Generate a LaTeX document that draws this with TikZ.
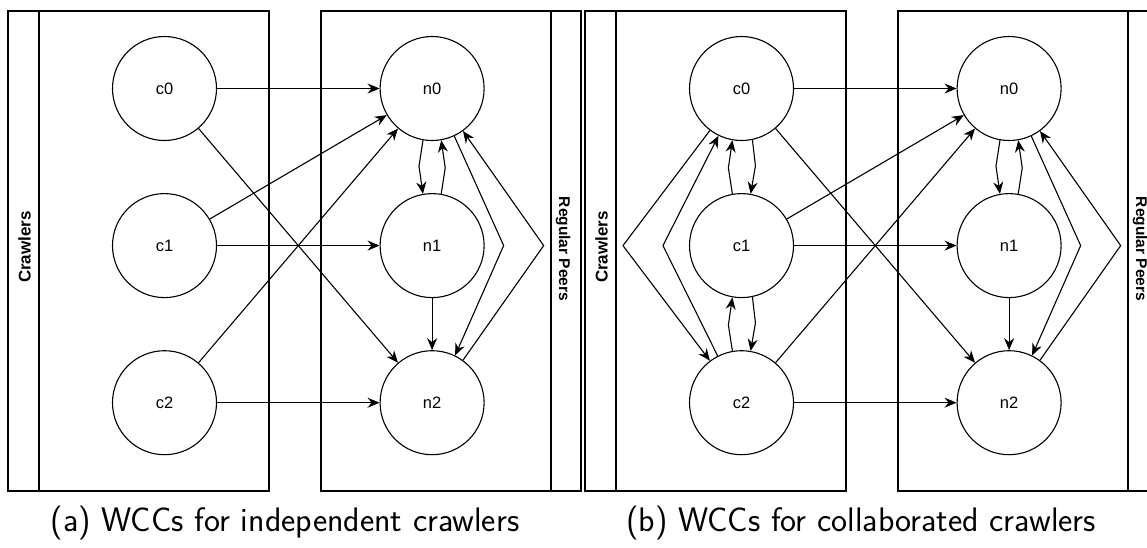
\documentclass[tikz,border=0pt]{standalone}
\usepackage{fontspec}
\setmainfont{Liberation Sans}
\usetikzlibrary{positioning,arrows.meta}

\begin{document}
\begin{tikzpicture}[x=1pt,y=-1pt,
    peer/.style={circle, draw, line width=1.1pt, minimum size=104pt, inner sep=0pt,
      font=\fontsize{16.5}{20}\selectfont},
    pool/.style={draw, line width=1.1pt},
    lane/.style={font=\bfseries\fontsize{15.5}{18}\selectfont},
    edge/.style={line width=1.1pt, -{Stealth[length=12pt,width=10pt,inset=4pt]}},
    caption/.style={font=\sffamily\fontsize{34}{40}\selectfont},
    node distance=52pt and 162.5pt]
  \useasboundingbox (0,0) rectangle (1147,547);

  % (a) independent crawlers
  \draw[pool] (8,11) rectangle (269,491);
  \draw[pool] (39,11) -- (39,491);
  \node[lane, font=\bfseries\fontsize{17}{20}\selectfont, rotate=90] (acrawl) at (24.5,247) {Crawlers};
  \draw[pool] (321,11) rectangle (581,491);
  \draw[pool] (551,11) -- (551,491);
  \node[lane, rotate=-90] (apeers) at (563,249) {Regular Peers};

  \node[peer] (ac0) at (164.5,88.5) {c0};
  \node[peer, below=of ac0] (ac1) {c1};
  \node[peer, below=of ac1] (ac2) {c2};
  \node[peer, right=of ac0] (an0) {n0};
  \node[peer, right=of ac1] (an1) {n1};
  \node[peer, right=of ac2] (an2) {n2};

  \draw[edge] (ac0) -- (an0);
  \draw[edge] (ac0) -- (an2);
  \draw[edge] (ac1) -- (an0);
  \draw[edge] (ac1) -- (an1);
  \draw[edge] (ac2) -- (an0);
  \draw[edge] (ac2) -- (an2);
  \draw[edge] (an0.-100) -- ++(-4,26) -- (an1.100);
  \draw[edge] (an1.80) -- ++(4,-26) -- (an0.-80);
  \draw[edge] (an1) -- (an2);
  \draw[edge] (an0.-65) -- ([xshift=19pt]an1.east) -- (an2.64);
  \draw[edge] (an2.54) -- ([xshift=59pt]an1.east) -- (an0.-54);

  \node[caption] (capa) at (285,523) {(a) WCCs for independent crawlers};

  % (b) collaborated crawlers
  \begin{scope}[xshift=577pt]
    \draw[pool] (8,11) rectangle (269,491);
    \draw[pool] (39,11) -- (39,491);
    \node[lane, font=\bfseries\fontsize{17}{20}\selectfont, rotate=90] (bcrawl) at (24.5,247) {Crawlers};
    \draw[pool] (321,11) rectangle (581,491);
    \draw[pool] (551,11) -- (551,491);
    \node[lane, rotate=-90] (bpeers) at (563,249) {Regular Peers};

    \node[peer] (bc0) at (164.5,88.5) {c0};
    \node[peer, below=of bc0] (bc1) {c1};
    \node[peer, below=of bc1] (bc2) {c2};
    \node[peer, right=of bc0] (bn0) {n0};
    \node[peer, right=of bc1] (bn1) {n1};
    \node[peer, right=of bc2] (bn2) {n2};

    \draw[edge] (bc0) -- (bn0);
    \draw[edge] (bc0) -- (bn2);
    \draw[edge] (bc1) -- (bn0);
    \draw[edge] (bc1) -- (bn1);
    \draw[edge] (bc2) -- (bn0);
    \draw[edge] (bc2) -- (bn2);
    \draw[edge] (bn0.-100) -- ++(-4,26) -- (bn1.100);
    \draw[edge] (bn1.80) -- ++(4,-26) -- (bn0.-80);
    \draw[edge] (bn1) -- (bn2);
    \draw[edge] (bn0.-65) -- ([xshift=19pt]bn1.east) -- (bn2.64);
    \draw[edge] (bn2.54) -- ([xshift=59pt]bn1.east) -- (bn0.-54);

    \draw[edge] (bc0.-78) -- ++(3,26) -- (bc1.80);
    \draw[edge] (bc1.100) -- ++(-4,-26) -- (bc0.-100);
    \draw[edge] (bc1.-78) -- ++(3,26) -- (bc2.80);
    \draw[edge] (bc2.100) -- ++(-4,-26) -- (bc1.-100);
    \draw[edge] (bc0.-127) -- ([xshift=-66pt]bc1.west) -- (bc2.127);
    \draw[edge] (bc2.117) -- ([xshift=-26pt]bc1.west) -- (bc0.-116);
  \end{scope}

  \node[caption] (capb) at (861,523) {(b) WCCs for collaborated crawlers};
\end{tikzpicture}
\end{document}
